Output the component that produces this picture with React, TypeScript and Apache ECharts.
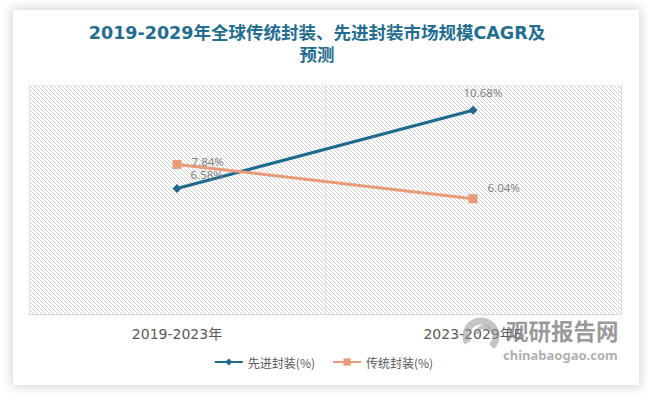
import React, { useEffect, useRef } from 'react';
import * as echarts from 'echarts';

const titleText = '2019-2029年全球传统封装、先进封装市场规模CAGR及\n预测';
const categories = ['2019-2023年', '2023-2029年E'];
const seriesNames = ['先进封装(%)', '传统封装(%)'];
const advanced = [6.58, 10.68];
const traditional = [7.84, 6.04];
const yMin = 0;
const yMax = 12;

function makeHatch(): HTMLCanvasElement {
  const c = document.createElement('canvas');
  c.width = 4;
  c.height = 4;
  const ctx = c.getContext('2d')!;
  ctx.fillStyle = '#ffffff';
  ctx.fillRect(0, 0, 4, 4);
  ctx.fillStyle = '#d2d2d2';
  for (let i = 0; i < 4; i++) ctx.fillRect(i, i, 1, 1);
  return c;
}

export default function App() {
  const ref = useRef<HTMLDivElement>(null);
  useEffect(() => {
    if (!ref.current) return;
    const chart = echarts.init(ref.current, undefined, { renderer: 'svg' });
    const hatch = makeHatch();
    const advLabels = [
      { position: 'right', offset: [4, -13.5] },
      { position: 'top', offset: [10, -2] },
    ];
    const tradLabels = [
      { position: 'right', offset: [5, -3] },
      { position: 'right', offset: [5, -11] },
    ];
    chart.setOption({
      animation: false,
      backgroundColor: 'transparent',
      title: {
        text: titleText,
        left: 312,
        top: 17,
        textAlign: 'center',
        textStyle: {
          fontSize: 17.5,
          fontWeight: 'bold',
          color: '#236d91',
          lineHeight: 22,
          fontFamily: 'DejaVu Sans, Noto Sans CJK SC, sans-serif',
        },
      },
      grid: {
        left: 29,
        right: 26,
        top: 85,
        height: 229,
        show: true,
        borderWidth: 0,
        backgroundColor: { image: hatch, repeat: 'repeat', imageWidth: 4, imageHeight: 4 },
      },
      legend: {
        data: seriesNames,
        top: 351,
        left: 'center',
        itemWidth: 28,
        itemHeight: 9,
        itemGap: 17,
        textStyle: { fontSize: 12, color: '#595959', fontFamily: 'Noto Sans CJK SC, sans-serif' },
      },
      xAxis: {
        type: 'category',
        data: categories,
        boundaryGap: true,
        axisLine: { show: true, lineStyle: { color: '#d9d9d9', width: 1 } },
        axisTick: { show: false },
        axisLabel: {
          margin: 13,
          fontSize: 14,
          color: '#595959',
          fontFamily: 'DejaVu Sans, Noto Sans CJK SC, sans-serif',
        },
        splitLine: { show: true, lineStyle: { color: '#dedede', width: 1 } },
      },
      yAxis: {
        type: 'value',
        min: yMin,
        max: yMax,
        show: false,
        splitLine: { show: false },
      },
      series: [
        {
          name: seriesNames[0],
          type: 'line',
          data: advanced.map((v, i) => ({ value: v, label: advLabels[i] })),
          symbol: 'diamond',
          symbolSize: 9,
          lineStyle: { color: '#1d6a8c', width: 3 },
          itemStyle: { color: '#1d6a8c' },
          label: {
            show: true,
            formatter: '{c}%',
            fontSize: 11.5,
            color: '#7f7f7f',
            fontFamily: 'Noto Sans, sans-serif',
          },
        },
        {
          name: seriesNames[1],
          type: 'line',
          data: traditional.map((v, i) => ({ value: v, label: tradLabels[i] })),
          symbol: 'rect',
          symbolSize: 9,
          lineStyle: { color: '#e99a78', width: 3 },
          itemStyle: { color: '#e99a78' },
          label: {
            show: true,
            formatter: '{c}%',
            fontSize: 11.5,
            color: '#7f7f7f',
            fontFamily: 'Noto Sans, sans-serif',
          },
        },
      ],
      graphic: [
        {
          type: 'arc',
          z: 100,
          shape: { cx: 481, cy: 336, r: 15, startAngle: Math.PI * 0.85, endAngle: Math.PI * 2.25 },
          style: { stroke: 'rgba(150,150,150,0.55)', lineWidth: 7, fill: 'none' },
        },
        {
          type: 'arc',
          z: 100,
          shape: { cx: 484, cy: 334, r: 7, startAngle: Math.PI * 1.0, endAngle: Math.PI * 1.9 },
          style: { stroke: 'rgba(150,150,150,0.55)', lineWidth: 4, fill: 'none' },
        },
        {
          type: 'text',
          z: 100,
          x: 506,
          y: 330,
          style: {
            text: '观研报告网',
            fontSize: 22.5,
            fontWeight: 'bold',
            fill: 'rgba(120,120,120,0.75)',
            fontFamily: 'Noto Sans CJK SC, sans-serif',
            verticalAlign: 'middle',
          },
        },
        {
          type: 'text',
          z: 100,
          x: 503,
          y: 354.5,
          style: {
            text: 'chinabaogao.com',
            fontSize: 13,
            fontWeight: 'bold',
            fill: 'rgba(140,140,140,0.7)',
            fontFamily: 'Noto Sans, sans-serif',
            verticalAlign: 'middle',
          },
        },
      ],
    });
    return () => chart.dispose();
  }, []);

  return (
    <div style={{ position: 'fixed', left: 0, top: 0, width: 647, height: 397, background: '#ffffff' }}>
      <div
        style={{
          position: 'absolute',
          left: 13,
          top: 10,
          width: 626,
          height: 375,
          background: '#ffffff',
          boxShadow: '0 0 10px 2px rgba(0,0,0,0.16)',
        }}
      />
      <div ref={ref} style={{ position: 'absolute', left: 0, top: 0, width: 647, height: 397 }} />
    </div>
  );
}
